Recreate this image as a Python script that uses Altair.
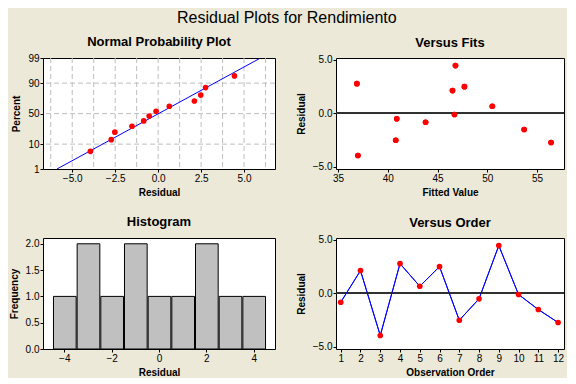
import altair as alt
import pandas as pd
from statistics import NormalDist, mean, stdev

# ---- data ----
residuals = [-0.84, 2.11, -3.94, 2.76, 0.65, 2.48, -2.52, -0.52, 4.44, -0.12, -1.52, -2.73]
fitted = [43.8, 46.5, 37.0, 36.9, 50.5, 47.7, 40.8, 40.9, 46.8, 46.7, 53.7, 56.4]
order = list(range(1, 13))

pct_ticks = [1, 10, 50, 90, 99]
pct_grid = [10, 50, 90]
npp_x_ticks = [-5.0, -2.5, 0.0, 2.5, 5.0]
npp_x_grid = [-6.25, -5.0, -3.75, -2.5, -1.25, 0.0, 1.25, 2.5, 3.75, 5.0, 6.25]
hist_x_ticks = [-4, -2, 0, 2, 4]
hist_y_ticks = [0.0, 0.5, 1.0, 1.5, 2.0]
res_ticks = [-5.0, -2.5, 0.0, 2.5, 5.0]
fit_ticks = [35, 40, 45, 50, 55]

FONT = "Liberation Sans"
RED = "#FF0000"
BLUE = "#0000FF"

nd = NormalDist()
n = len(residuals)
npp_df = pd.DataFrame({
    "res": sorted(residuals),
    "z": [nd.inv_cdf((i - 0.3) / (n + 0.4)) for i in range(1, n + 1)],
})
m, s = mean(residuals), stdev(residuals)
z_lo, z_hi = nd.inv_cdf(0.01), nd.inv_cdf(0.99)
line_df = pd.DataFrame({"res": [m + s * z_lo, m + s * z_hi], "z": [z_lo, z_hi]})
zgrid_df = pd.DataFrame({"z": [nd.inv_cdf(p / 100) for p in pct_grid]})
xgrid_df = pd.DataFrame({"res": npp_x_grid})
ztick_vals = [nd.inv_cdf(p / 100) for p in pct_ticks]
label_expr = " : ".join(
    f"abs(datum.value - ({z:.5f})) < 0.01 ? '{p}'" for p, z in zip(pct_ticks, ztick_vals)
) + " : ''"

main_df = pd.DataFrame({"order": order, "res": residuals, "fit": fitted})

WL, WR, H = 232, 228, 111
GRID = "#BEBEBE"


def ptitle(t, off):
    return alt.Title(t, fontSize=13, fontWeight="bold", font=FONT, offset=off,
                     frame="group", anchor="middle", color="black")


# ---- Normal probability plot ----
X_npp = alt.X("res:Q", scale=alt.Scale(domain=[-6.7, 6.8], nice=False, zero=False),
              title="Residual", axis=alt.Axis(values=npp_x_ticks, format=".1f", grid=False))
Y_npp = alt.Y("z:Q", scale=alt.Scale(domain=[z_lo, z_hi + 0.01], nice=False, zero=False),
              title="Percent", axis=alt.Axis(values=ztick_vals, labelExpr=label_expr, grid=False))
npp_xgrid = alt.Chart(xgrid_df).mark_rule(color=GRID, strokeDash=[5, 3], strokeWidth=1).encode(x=X_npp)
npp_ygrid = alt.Chart(zgrid_df).mark_rule(color=GRID, strokeDash=[5, 3], strokeWidth=1).encode(y=Y_npp)
npp_line = alt.Chart(line_df).mark_line(color=BLUE, strokeWidth=1).encode(x=X_npp, y=Y_npp)
npp_pts = alt.Chart(npp_df).mark_circle(color=RED, size=32, opacity=1).encode(x=X_npp, y=Y_npp)
npp = alt.layer(npp_xgrid, npp_ygrid, npp_line, npp_pts).properties(
    width=WL, height=H, title=ptitle("Normal Probability Plot", 4))

# ---- Versus fits ----
Y_res = alt.Y("res:Q", scale=alt.Scale(domain=[-5.2, 5.15], nice=False, zero=False),
              title="Residual", axis=alt.Axis(values=res_ticks, format=".1f", grid=False))
X_fit = alt.X("fit:Q", scale=alt.Scale(domain=[34.8, 57.7], nice=False, zero=False),
              title="Fitted Value", axis=alt.Axis(values=fit_ticks, format="d", grid=False))
fit_zero = alt.Chart(main_df).mark_rule(color="#303030", strokeWidth=1).encode(y=alt.datum(0))
fit_pts = alt.Chart(main_df).mark_circle(color=RED, size=32, opacity=1).encode(x=X_fit, y=Y_res)
fits = alt.layer(fit_pts, fit_zero, fit_pts).properties(
    width=WR, height=H, title=ptitle("Versus Fits", 4.8))

# ---- Histogram ----
hist = alt.Chart(main_df).mark_bar(color="#C0C0C0", stroke="black", strokeWidth=1).encode(
    x=alt.X("res:Q", bin=alt.Bin(extent=[-4.5, 4.5], step=1, anchor=-4.5),
            scale=alt.Scale(domain=[-4.9, 4.9], nice=False, zero=False),
            title="Residual", axis=alt.Axis(values=hist_x_ticks, format="d", grid=False)),
    y=alt.Y("count():Q", scale=alt.Scale(domain=[0, 2.11], nice=False),
            title="Frequency", axis=alt.Axis(values=hist_y_ticks, format=".1f", grid=False)),
).properties(width=WL, height=H, title=ptitle("Histogram", 8.8))

# ---- Versus order ----
X_ord = alt.X("order:Q", scale=alt.Scale(domain=[0.76, 12.3], nice=False, zero=False),
              title="Observation Order", axis=alt.Axis(values=order, format="d", grid=False))
ord_line = alt.Chart(main_df).mark_line(color=BLUE, strokeWidth=1).encode(x=X_ord, y=Y_res)
ord_zero = alt.Chart(main_df).mark_rule(color="#303030", strokeWidth=1).encode(y=alt.datum(0))
ord_pts = alt.Chart(main_df).mark_circle(color=RED, size=32, opacity=1).encode(x=X_ord, y=Y_res)
vorder = alt.layer(ord_line, ord_zero, ord_line, ord_pts).properties(
    width=WR, height=H, title=ptitle("Versus Order", 4.5))

chart = alt.concat(
    npp, fits, hist, vorder, columns=2,
    spacing={"row": 17, "column": 19},
).properties(
    title=alt.Title("Residual Plots for Rendimiento", fontSize=16, fontWeight="normal",
                    font=FONT, frame="bounds", anchor="middle", color="black", offset=9.5),
    background="#ECE9D8",
    padding={"left": 0, "top": 2, "right": 2, "bottom": 0},
).configure_view(
    stroke="black", strokeWidth=1, fill="white"
).configure_axis(
    domain=False, tickColor="black", tickSize=3, tickWidth=1,
    labelFont=FONT, labelFontSize=10, labelColor="black", labelPadding=1,
    titleFont=FONT, titleFontSize=10, titleFontWeight="bold", titleColor="black",
    titlePadding=4,
).configure_axisY(titlePadding=6)

chart.save("out.html", embed_options={"renderer": "svg", "actions": False})
